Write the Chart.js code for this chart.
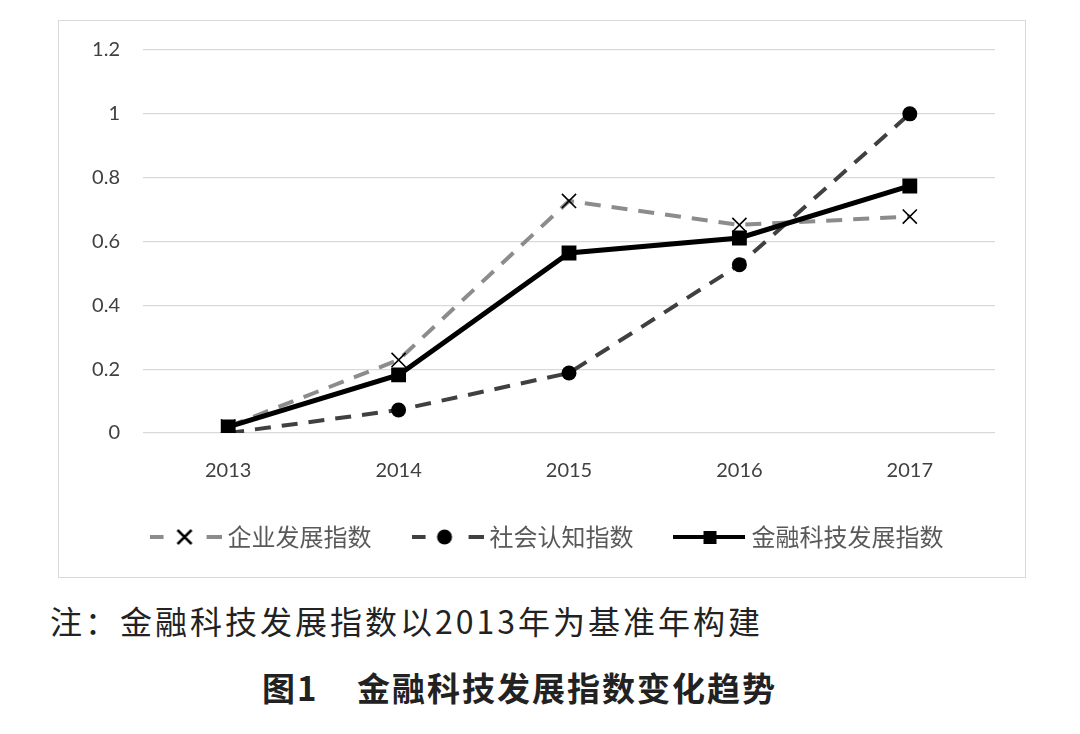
<!DOCTYPE html>
<html>
<head>
<meta charset="utf-8">
<script src="https://cdn.jsdelivr.net/npm/chart.js@4.4.0/dist/chart.umd.min.js"></script>
<style>
  body { margin: 0; background: #fff; width: 1080px; height: 734px; position: relative; overflow: hidden; }
  #box { position: absolute; left: 58px; top: 20px; width: 966px; height: 556px; border: 1px solid #d9d9d9; }
  #note { position: absolute; left: 50px; top: 597px; font-family: "Noto Sans CJK SC"; font-size: 32px; color: #222; letter-spacing: 3px; white-space: nowrap; }
  .tit { position: absolute; top: 663px; font-family: "Noto Sans CJK SC"; font-weight: bold; font-size: 33px; color: #222; white-space: nowrap; letter-spacing: 2px; }
</style>
</head>
<body>
<div id="box"><canvas id="grafico" width="966" height="556"></canvas></div>
<div id="note">注：金融科技发展指数以2013年为基准年构建</div>
<div class="tit" style="left:262px">图1</div>
<div class="tit" style="left:357px">金融科技发展指数变化趋势</div>
<script>
// datos
const anios = ["2013", "2014", "2015", "2016", "2017"];
const indiceEmpresa = [0.02, 0.229, 0.727, 0.652, 0.678];
const indiceSocial = [0.0, 0.072, 0.188, 0.527, 1.0];
const indiceFintech = [0.019, 0.182, 0.564, 0.611, 0.774];
const etiquetasY = ["0", "0.2", "0.4", "0.6", "0.8", "1", "1.2"];

// icono de leyenda: linea + marcador
function iconoLeyenda(color, dashed, marcador) {
  const c = document.createElement("canvas");
  c.width = 72;
  c.height = 24;
  const ctx = c.getContext("2d");
  ctx.strokeStyle = color;
  ctx.lineWidth = 4;
  ctx.beginPath();
  if (dashed) {
    ctx.moveTo(0, 12); ctx.lineTo(14, 12);
    ctx.moveTo(57, 12); ctx.lineTo(72, 12);
  } else {
    ctx.moveTo(0, 12); ctx.lineTo(72, 12);
  }
  ctx.stroke();
  ctx.fillStyle = "#000";
  ctx.strokeStyle = "#000";
  if (marcador === "x") {
    ctx.lineWidth = 2.5;
    ctx.beginPath();
    ctx.moveTo(28, 5); ctx.lineTo(42, 19);
    ctx.moveTo(42, 5); ctx.lineTo(28, 19);
    ctx.stroke();
  } else if (marcador === "o") {
    ctx.beginPath();
    ctx.arc(33, 12, 7.5, 0, Math.PI * 2);
    ctx.fill();
  } else {
    ctx.fillRect(30, 6, 13, 13);
  }
  return c;
}

const iconos = [
  iconoLeyenda("#8c8c8c", true, "x"),
  iconoLeyenda("#404040", true, "o"),
  iconoLeyenda("#000", false, "s"),
];

const ctx = document.getElementById("grafico").getContext("2d");
const grafica = new Chart(ctx, {
  type: "line",
  data: {
    labels: anios,
    datasets: [
      {
        label: "企业发展指数",
        data: indiceEmpresa,
        borderColor: "#8c8c8c",
        borderWidth: 4,
        borderDash: [16, 11],
        pointStyle: "crossRot",
        pointRadius: 10,
        pointBorderColor: "#000",
        pointBorderWidth: 1.6,
        pointBackgroundColor: "#000",
        tension: 0,
        order: 3,
      },
      {
        label: "社会认知指数",
        data: indiceSocial,
        borderColor: "#404040",
        borderWidth: 4,
        borderDash: [16, 11],
        pointStyle: "circle",
        pointRadius: 7.5,
        pointBorderWidth: 0,
        pointBackgroundColor: "#000",
        tension: 0,
        order: 2,
      },
      {
        label: "金融科技发展指数",
        data: indiceFintech,
        borderColor: "#000",
        borderWidth: 5,
        pointStyle: "rect",
        pointRadius: 10.5,
        pointBorderWidth: 0,
        pointBackgroundColor: "#000",
        tension: 0,
        order: 1,
      },
    ],
  },
  options: {
    responsive: false,
    animation: false,
    layout: { padding: { left: 15, right: 0, top: 29, bottom: 18 } },
    plugins: {
      tooltip: { enabled: false },
      legend: {
        position: "bottom",
        labels: {
          usePointStyle: true,
          pointStyleWidth: 60,
          padding: 46,
          color: "#595959",
          font: { family: "'Noto Sans CJK SC'", size: 24 },
          sort: (a, b) => a.datasetIndex - b.datasetIndex,
          generateLabels: (chart) =>
            chart.data.datasets.map((ds, i) => ({
              text: ds.label,
              pointStyle: iconos[i],
              fillStyle: "#000",
              strokeStyle: "#000",
              lineWidth: 0,
              hidden: false,
              datasetIndex: i,
              fontColor: "#595959",
            })),
        },
      },
    },
    scales: {
      x: {
        offset: true,
        grid: { display: false, drawTicks: false },
        border: { display: false },
        ticks: { color: "#404040", padding: 26, font: { family: "Lato", size: 20 } },
        afterFit: (scale) => {
          scale.height = 46;
          scale.paddingRight = 30;
        },
      },
      y: {
        min: 0,
        max: 1.2,
        grid: { color: "#d9d9d9", lineWidth: 1.3, drawTicks: false },
        border: { display: false },
        ticks: {
          stepSize: 0.2,
          color: "#404040",
          padding: 23,
          font: { family: "Lato", size: 20 },
          callback: (value, index) => etiquetasY[index],
        },
        afterFit: (scale) => {
          scale.width = 69;
          scale.paddingTop = 0;
          scale.paddingBottom = 0;
        },
      },
    },
  },
});
</script>
</body>
</html>
